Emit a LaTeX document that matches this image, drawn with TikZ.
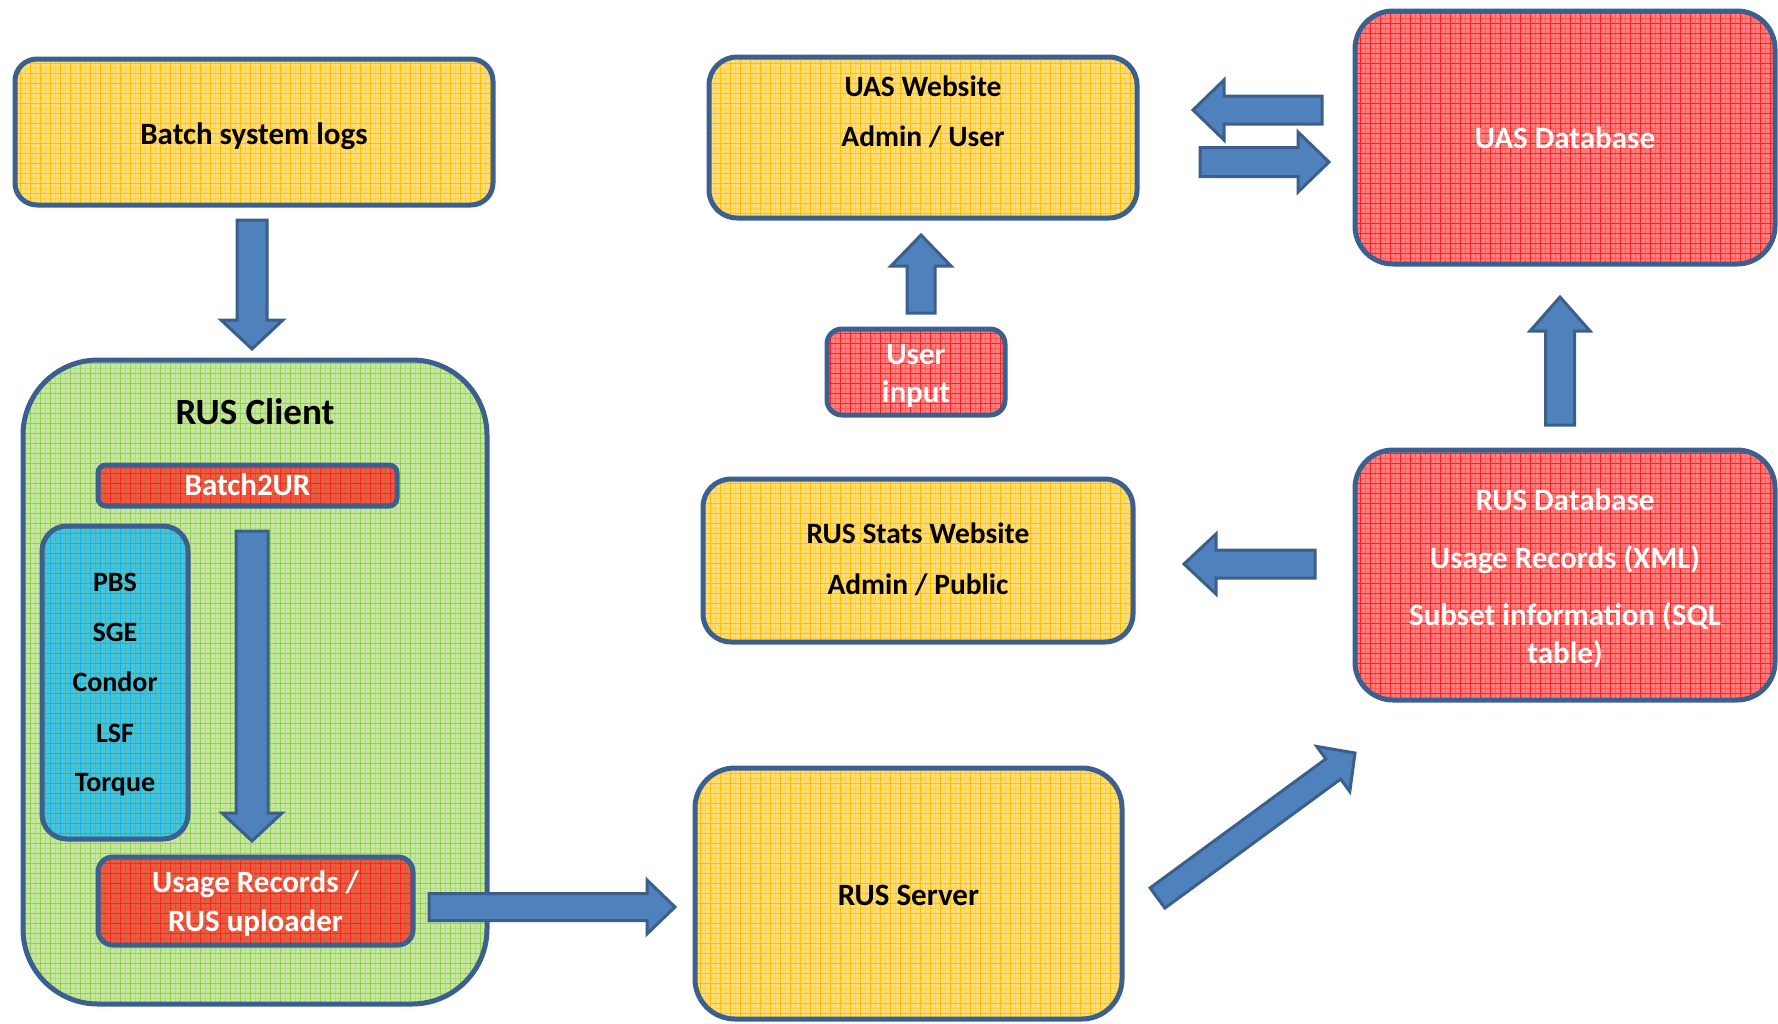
\documentclass[tikz,border=0pt]{standalone}
\usepackage{fontspec}
\setmainfont{Carlito}
\usetikzlibrary{patterns.meta,calc}

\definecolor{bord}{HTML}{3B6090}
\definecolor{arrfill}{HTML}{4F81BD}
\definecolor{arrbord}{HTML}{3A5F8B}
\definecolor{ybg}{HTML}{FFDD7A}
\definecolor{yln}{HTML}{FFC000}
\definecolor{gbg}{HTML}{C6E6A2}
\definecolor{gln}{HTML}{92D050}
\definecolor{bbg}{HTML}{4EC3CC}
\definecolor{bln}{HTML}{12B2EE}
\definecolor{rbg}{HTML}{FF7F7F}
\definecolor{rln}{HTML}{FF2020}
\definecolor{obg}{HTML}{E4613F}
\definecolor{oln}{HTML}{FF2424}

\tikzset{
  box/.style={draw=bord, line width=5pt, rectangle, inner sep=0pt},
  gridfill/.style 2 args={preaction={fill=#1},
     preaction={pattern={Hatch[angle=0,distance=10pt,xshift=5pt,yshift=5pt,line width=0.4pt]}, pattern color=#2!40!#1},
     pattern={Hatch[angle=0,distance=10pt,line width=0.9pt]}, pattern color=#2},
  ybox/.style={box, gridfill={ybg}{yln}},
  gbox/.style={box, gridfill={gbg}{gln}},
  bbox/.style={box, gridfill={bbg}{bln}},
  rbox/.style={box, gridfill={rbg}{rln}},
  obox/.style={box, gridfill={obg}{oln}},
  txt/.style={anchor=base, inner sep=0pt, font=\bfseries\fontsize{31}{38}\selectfont},
  stxt/.style={txt, font=\bfseries\fontsize{29.5}{36}\selectfont},
  ltxt/.style={txt, font=\bfseries\fontsize{28}{34}\selectfont},
  wtxt/.style={txt, text=white},
  barrow/.style={fill=arrfill, draw=arrbord, line width=3pt, line join=miter},
}

\newcommand\blockarrow[5]{%
  \coordinate (hb) at ($(#2)!#5!(#1)$);
  \draw[barrow] ($(#1)!#3!90:(#2)$) -- ($(hb)!#3!-90:(#1)$) -- ($(hb)!#4!-90:(#1)$)
    -- (#2) -- ($(hb)!#4!90:(#1)$) -- ($(hb)!#3!90:(#1)$) -- ($(#1)!#3!-90:(#2)$) -- cycle;}

\begin{document}
\begin{tikzpicture}[x=1pt,y=-1pt]
\useasboundingbox (0,0) rectangle (1778,1023);

% boxes
\node[ybox, rounded corners=22pt, minimum width=478pt, minimum height=146pt] (batch) at (254,132) {};
\node[gbox, rounded corners=75pt, minimum width=464pt, minimum height=644pt] (client) at (255,682) {};
\node[obox, rounded corners=8pt, minimum width=299pt, minimum height=41pt] (b2ur) at (247.5,485.5) {};
\node[bbox, rounded corners=25pt, minimum width=146pt, minimum height=313pt] (lrms) at (115,682.5) {};
\node[obox, rounded corners=15pt, minimum width=315pt, minimum height=88pt] (uploader) at (255.5,901) {};
\node[ybox, rounded corners=28pt, minimum width=428pt, minimum height=161pt] (uasweb) at (923,137.5) {};
\node[rbox, rounded corners=15pt, minimum width=178pt, minimum height=86pt] (uinput) at (916,372) {};
\node[ybox, rounded corners=28pt, minimum width=430pt, minimum height=163pt] (stats) at (918,560.5) {};
\node[ybox, rounded corners=40pt, minimum width=427pt, minimum height=251pt] (server) at (908.5,893.5) {};
\node[rbox, rounded corners=38pt, minimum width=420pt, minimum height=253pt] (uasdb) at (1565,137.5) {};
\node[rbox, rounded corners=38pt, minimum width=420pt, minimum height=250pt] (rusdb) at (1565,575) {};

% texts
\node[txt] (tbatch) at (254,144) {Batch system logs};
\node[txt, font=\bfseries\fontsize{37}{44}\selectfont] (tclient) at (255,424) {RUS Client};
\node[wtxt] (tb2ur) at (247.5,495) {Batch2UR};
\node[ltxt] (tpbs) at (115,591) {PBS};
\node[ltxt] (tsge) at (115,641) {SGE};
\node[ltxt] (tcondor) at (115,691) {Condor};
\node[ltxt] (tlsf) at (115,742) {LSF};
\node[ltxt] (ttorque) at (115,791) {Torque};
\node[wtxt] (tup1) at (255.5,892) {Usage Records /};
\node[wtxt] (tup2) at (255.5,931) {RUS uploader};
\node[stxt] (tuas1) at (923,96.5) {UAS Website};
\node[stxt] (tuas2) at (923,146.5) {Admin / User};
\node[wtxt] (tui1) at (916,364) {User};
\node[wtxt] (tui2) at (916,402) {input};
\node[stxt] (tst1) at (918,543.5) {RUS Stats Website};
\node[stxt] (tst2) at (918,594.5) {Admin / Public};
\node[txt] (tserver) at (908.5,905) {RUS Server};
\node[wtxt] (tuasdb) at (1565,148) {UAS Database};
\node[wtxt] (trus1) at (1565,510) {RUS Database};
\node[wtxt] (trus2) at (1565,568) {Usage Records (XML)};
\node[wtxt] (trus3) at (1565,625) {Subset information (SQL};
\node[wtxt] (trus4) at (1565,663) {table)};

% arrow end points
\coordinate (a1s) at (252,220);   \coordinate (a1e) at (252,349);
\coordinate (a2s) at (252,531);   \coordinate (a2e) at (252,841);
\coordinate (a3s) at (429,907);   \coordinate (a3e) at (675,907);
\coordinate (a4s) at (921,313);   \coordinate (a4e) at (921,235);
\coordinate (a5s) at (1322,110);  \coordinate (a5e) at (1193,110);
\coordinate (a6s) at (1200,162);  \coordinate (a6e) at (1329,162);
\coordinate (a7s) at (1560,425);  \coordinate (a7e) at (1560,297);
\coordinate (a8s) at (1315,564);  \coordinate (a8e) at (1184,564);
\coordinate (a9s) at (1157.5,898); \coordinate (a9e) at (1355,753);

\blockarrow{a1s}{a1e}{15pt}{31pt}{29pt}
\blockarrow{a2s}{a2e}{16pt}{30pt}{28pt}
\blockarrow{a3s}{a3e}{13.5pt}{27pt}{28pt}
\blockarrow{a4s}{a4e}{14pt}{30pt}{31pt}
\blockarrow{a5s}{a5e}{14pt}{30pt}{31pt}
\blockarrow{a6s}{a6e}{14.5pt}{30pt}{31pt}
\blockarrow{a7s}{a7e}{14.5pt}{30pt}{34pt}
\blockarrow{a8s}{a8e}{14pt}{30pt}{32pt}
\blockarrow{a9s}{a9e}{12.5pt}{28pt}{27pt}
\end{tikzpicture}
\end{document}
